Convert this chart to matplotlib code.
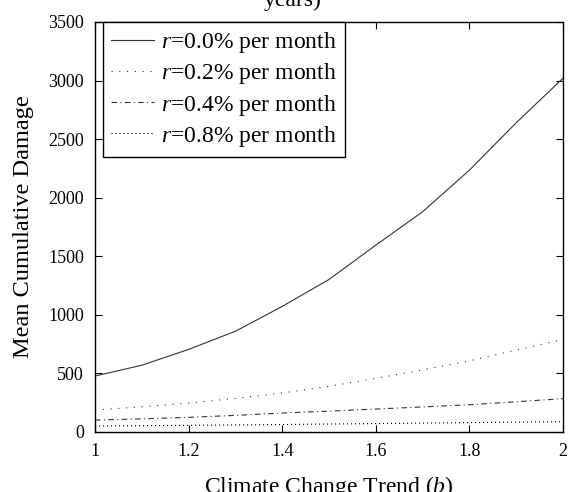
import matplotlib
matplotlib.use('Agg')
import matplotlib.pyplot as plt

plt.rcParams['font.family'] = ['Liberation Serif', 'DejaVu Serif']
plt.rcParams['mathtext.fontset'] = 'custom'
plt.rcParams['mathtext.it'] = 'Liberation Serif:italic'
plt.rcParams['mathtext.rm'] = 'Liberation Serif'

# data
b = [1.0, 1.1, 1.2, 1.3, 1.4, 1.5, 1.6, 1.7, 1.8, 1.9, 2.0]
r00 = [478, 570, 705, 860, 1072, 1302, 1595, 1880, 2235, 2640, 3020]
r02 = [188, 215, 247, 287, 333, 390, 458, 530, 607, 700, 790]
r04 = [102, 112, 125, 142, 162, 178, 196, 214, 233, 258, 285]
r08 = [51, 54, 57, 60, 64, 68, 72, 76, 80, 84, 88]
labels = ['$r$=0.0% per month', '$r$=0.2% per month',
          '$r$=0.4% per month', '$r$=0.8% per month']

fig = plt.figure(figsize=(5.71, 4.92), dpi=100)
ax = fig.add_axes([95/571, 1-432/492, 468/571, 410/492])

c = '#333333'
ax.plot(b, r00, color=c, lw=0.8, ls='-', label=labels[0])
ax.plot(b, r02, color=c, lw=0.8, ls=(0, (1, 6)), label=labels[1])
ax.plot(b, r04, color=c, lw=0.8, ls=(0, (5, 3, 1, 3)), label=labels[2])
ax.plot(b, r08, color='black', lw=0.8, ls=(0, (1, 2.6)), label=labels[3])

ax.set_xlim(1, 2)
ax.set_ylim(0, 3500)
ax.set_xticks([1, 1.2, 1.4, 1.6, 1.8, 2])
ax.set_xticklabels(['1', '1.2', '1.4', '1.6', '1.8', '2'])
ax.set_yticks(range(0, 3501, 500))
ax.tick_params(direction='in', top=True, right=True, length=5, width=0.8,
               labelsize=13, pad=8)
for s in ax.spines.values():
    s.set_linewidth(1.0)

ax.set_xlabel('Climate Change Trend ($b$)', fontsize=17, labelpad=10)
ax.set_ylabel('Mean Cumulative Damage', fontsize=17.5, labelpad=10)

leg = ax.legend(loc='upper left', bbox_to_anchor=(8/468, 1.0), fontsize=17,
                fancybox=False, framealpha=1, edgecolor='black',
                borderaxespad=0, handlelength=1.8, handletextpad=0.3,
                labelspacing=0.26, borderpad=0.35)
leg.get_frame().set_linewidth(1.0)

fig.text(322/571, 1-6/492, 'years)', ha='right', va='baseline', fontsize=17)

fig.savefig('out.png', dpi=100)
